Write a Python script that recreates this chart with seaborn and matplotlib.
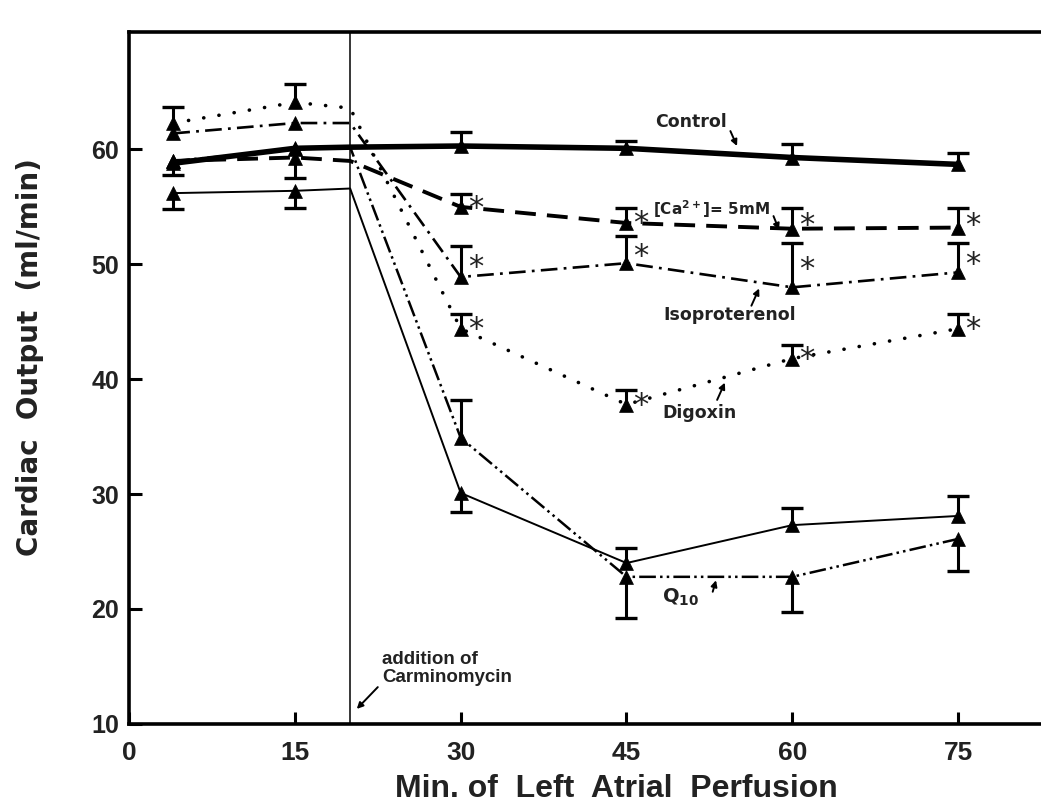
import numpy as np
import pandas as pd
import matplotlib
matplotlib.use('Agg')
import matplotlib.pyplot as plt
import seaborn as sns

# ---------------- data ----------------
times = [4, 15, 20, 30, 45, 60, 75]          # 20 = addition of Carminomycin (no marker)
marker_times = [4, 15, 30, 45, 60, 75]

control = [58.8, 60.1, 60.2, 60.3, 60.1, 59.3, 58.7]
calcium = [59.0, 59.3, 59.0, 55.0, 53.6, 53.1, 53.2]
isoproterenol = [61.4, 62.3, 62.3, 48.9, 50.1, 48.0, 49.3]
digoxin = [62.3, 64.1, 63.6, 44.4, 37.8, 41.8, 44.4]
carminomycin = [56.2, 56.4, 56.6, 30.1, 24.0, 27.3, 28.1]
q10 = [59.0, 60.0, 60.2, 34.9, 22.8, 22.8, 26.1]

# one-sided error bars at marker_times (+ = upward, - = downward)
control_err = [0, 0, 1.2, 0.6, 1.2, 1.0]
calcium_err = [-1.2, -1.8, 1.1, 1.3, 1.8, 1.7]
isoproterenol_err = [0, 0, 2.7, 2.4, 3.9, 2.6]
digoxin_err = [1.4, 1.6, 1.3, 1.3, 1.2, 1.3]
carminomycin_err = [-1.4, -1.5, -1.7, 1.3, 1.5, 1.7]
q10_err = [0, 0, 3.3, -3.6, -3.1, -2.8]

# significance asterisks (times)
star_times = [30, 45, 60, 75]
star_series = ['calcium', 'isoproterenol', 'digoxin']

series_names = ['control', 'calcium', 'isoproterenol', 'digoxin', 'carminomycin', 'q10']
values = dict(control=control, calcium=calcium, isoproterenol=isoproterenol,
              digoxin=digoxin, carminomycin=carminomycin, q10=q10)
errors = dict(control=control_err, calcium=calcium_err, isoproterenol=isoproterenol_err,
              digoxin=digoxin_err, carminomycin=carminomycin_err, q10=q10_err)

x_ticks = [0, 15, 30, 45, 60, 75]
y_ticks = [10, 20, 30, 40, 50, 60]
x_label = 'Min. of  Left  Atrial  Perfusion'
y_label = 'Cardiac  Output  (ml/min)'
carmino_time = 20

# ---------------- styles ----------------
sns.set_style('ticks')
plt.rcParams['font.family'] = ['Liberation Sans', 'DejaVu Sans']
plt.rcParams['lines.scale_dashes'] = False
plt.rcParams['mathtext.fontset'] = 'dejavusans'

styles = {
    'control': dict(lw=4.0, ls='-'),
    'calcium': dict(lw=2.8, ls=(0, (15, 8))),
    'isoproterenol': dict(lw=1.9, ls=(0, (12, 4.5, 2, 4.5))),
    'digoxin': dict(lw=2.6, ls=(0, (0.1, 11)), dash_capstyle='round'),
    'carminomycin': dict(lw=1.4, ls='-'),
    'q10': dict(lw=1.8, ls=(0, (12, 3, 1.8, 3, 1.8, 3))),
}

rows = []
for name in series_names:
    for t, v in zip(times, values[name]):
        rows.append(dict(series=name, time=t, value=v))
df = pd.DataFrame(rows)

mrows = []
for name in series_names:
    vals = dict(zip(times, values[name]))
    for t, e in zip(marker_times, errors[name]):
        mrows.append(dict(series=name, time=t, value=vals[t], err=e))
mdf = pd.DataFrame(mrows)

fig = plt.figure(figsize=(10.41, 8.07), dpi=100)
ax = fig.add_axes([0.124, 0.103, 0.876, 0.857])

for name in series_names:
    st = dict(styles[name])
    ls = st.pop('ls')
    sns.lineplot(data=df[df.series == name], x='time', y='value', color='black',
                 sort=False, errorbar=None, legend=False, ax=ax, linestyle=ls, **st)

# error bars
eb = mdf[mdf.err != 0]
ax.vlines(eb.time, eb.value, eb.value + eb.err, color='black', lw=2.2, zorder=4)
ax.plot(eb.time, eb.value + eb.err, ls='none', marker='_', ms=16, mew=2.4,
        color='black', zorder=4)

# markers
sns.scatterplot(data=mdf, x='time', y='value', marker='^', s=100, color='black',
                edgecolor='black', linewidth=0.5, zorder=5, legend=False, ax=ax)

# asterisks
for name in star_series:
    sub = mdf[(mdf.series == name) & (mdf.time.isin(star_times))]
    for _, r in sub.iterrows():
        ax.annotate('*', xy=(r.time, r.value + 0.6 * r.err), xytext=(5, -13),
                    textcoords='offset points', fontsize=22, ha='left', va='baseline',
                    family='DejaVu Sans', color='#222222')

# vertical line: addition of Carminomycin
ax.axvline(carmino_time, color='black', lw=1.1, zorder=1)

# labels with arrows
lab_kw = dict(fontsize=12.5, fontweight='bold', color='#222222', family='DejaVu Sans')
arrow = dict(arrowstyle='-|>', lw=1.4, color='black', mutation_scale=9,
             shrinkA=0, shrinkB=0)
ax.text(50.8, 62.4, 'Control', ha='center', va='center', **lab_kw)
ax.annotate('', xy=(55.0, 60.3), xytext=(54.4, 61.6), arrowprops=arrow)
ax.text(47.4, 54.8, r'[Ca$^{\mathbf{2+}}$]= 5mM', ha='left', va='center',
        fontsize=11, fontweight='bold', color='#222222', family='DejaVu Sans')
ax.annotate('', xy=(58.8, 53.0), xytext=(58.3, 54.2), arrowprops=arrow)
ax.text(54.3, 45.6, 'Isoproterenol', ha='center', va='center', **lab_kw)
ax.annotate('', xy=(57.0, 47.9), xytext=(56.3, 46.4), arrowprops=arrow)
ax.text(51.6, 37.1, 'Digoxin', ha='center', va='center', **lab_kw)
ax.annotate('', xy=(53.9, 39.7), xytext=(53.2, 38.2), arrowprops=arrow)
ax.text(49.9, 21.0, r'Q$_{\mathbf{10}}$', ha='center', va='center', fontsize=14,
        fontweight='bold', color='#222222', family='DejaVu Sans')
ax.annotate('', xy=(53.1, 22.5), xytext=(52.8, 21.5), arrowprops=arrow)
ax.text(22.9, 14.8, 'addition of\nCarminomycin', ha='left', va='center',
        fontsize=13.5, fontweight='bold', color='#222222', linespacing=1.05,
        family=['Liberation Sans Narrow', 'Liberation Sans'])
ax.annotate('', xy=(20.6, 11.3), xytext=(22.5, 13.2), arrowprops=arrow)

# axes
ax.set_xlim(0, 82.5)
ax.set_ylim(10, 70.2)
ax.set_xticks(x_ticks)
ax.set_yticks(y_ticks)
ax.tick_params(direction='in', length=9, width=2.2, color='black')
ax.tick_params(axis='y', pad=7)
ax.tick_params(axis='x', pad=12)
for lab in ax.get_yticklabels():
    lab.set_fontsize(18); lab.set_fontweight('bold'); lab.set_color('#222222')
for lab in ax.get_xticklabels():
    lab.set_fontsize(19); lab.set_fontweight('bold'); lab.set_color('#222222')
    lab.set_family(['Liberation Sans Narrow', 'Liberation Sans'])
for s in ['left', 'bottom', 'top']:
    ax.spines[s].set_linewidth(2.6)
    ax.spines[s].set_color('black')
ax.spines['right'].set_visible(False)

ax.set_xlabel(x_label, fontsize=23, fontweight='bold', color='#222222',
              family=['Liberation Sans Narrow', 'Liberation Sans'])
ax.xaxis.set_label_coords(0.534, -0.072)
ax.set_ylabel(y_label, fontsize=20, fontweight='bold', color='#222222',
              family='DejaVu Sans')
ax.yaxis.set_label_coords(-0.093, 0.53)

fig.savefig('out.png', dpi=100)
